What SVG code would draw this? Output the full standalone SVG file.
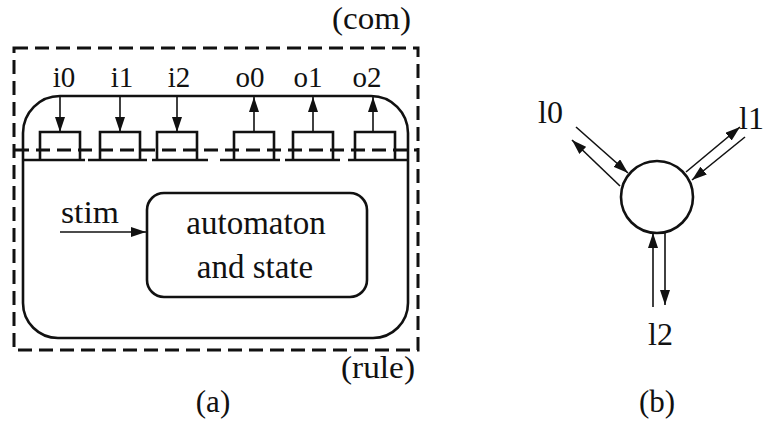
<svg xmlns="http://www.w3.org/2000/svg" width="764" height="434" viewBox="0 0 764 434" font-family="'Liberation Serif', 'Times New Roman', 'DejaVu Serif', serif">
<style>
text{font-family:"Liberation Serif","Times New Roman","DejaVu Serif",serif;fill:#111}
.lbl{font-size:31px}
.port{font-size:29px;text-anchor:middle}
.dash{fill:none;stroke:#111;stroke-width:3;stroke-dasharray:14 7}
.solid{fill:none;stroke:#111;stroke-width:2.6}
.arr{fill:none;stroke:#111;stroke-width:1.6;marker-end:url(#ah)}
</style>
<defs>
<marker id="ah" viewBox="0 0 15 10" refX="15" refY="5" markerWidth="15" markerHeight="10" markerUnits="userSpaceOnUse" orient="auto">
<path d="M0,0 L15,5 L0,10 Z" fill="#111"/>
</marker>
</defs>
<rect width="764" height="434" fill="#fff"/>

<g id="panel-a">
<g id="com-boundary">
<rect class="dash" x="14" y="48" width="404" height="302"/>
<line class="dash" x1="15" y1="150" x2="417" y2="150"/>
<text class="lbl" x="332" y="29" textLength="79" lengthAdjust="spacingAndGlyphs">(com)</text>
<text class="lbl" x="341" y="378" textLength="74" lengthAdjust="spacingAndGlyphs">(rule)</text>
</g>
<g id="rule-body">
<path class="solid" d="M60,96 L371,96 A37,37 0 0 1 408,133 L408,303 A35,35 0 0 1 373,338 L58,338 A35,35 0 0 1 23,303 L23,133 A37,37 0 0 1 60,96 Z"/>
<g class="solid">
<line x1="23" y1="160" x2="85" y2="160"/>
<line x1="88" y1="160" x2="147" y2="160"/>
<line x1="152" y1="160" x2="208" y2="160"/>
<line x1="220" y1="160" x2="280" y2="160"/>
<line x1="285" y1="160" x2="340" y2="160"/>
<line x1="348" y1="160" x2="408" y2="160"/>
</g>
</g>
<g id="ports" class="solid">
<path id="port-i0" d="M40,160 L40,132 L80,132 L80,160"/>
<path id="port-i1" d="M100,160 L100,132 L140,132 L140,160"/>
<path id="port-i2" d="M157,160 L157,132 L197,132 L197,160"/>
<path id="port-o0" d="M234,160 L234,132 L274,132 L274,160"/>
<path id="port-o1" d="M293,160 L293,132 L333,132 L333,160"/>
<path id="port-o2" d="M355,160 L355,132 L395,132 L395,160"/>
</g>
<g id="port-labels">
<text class="port" x="64" y="87">i0</text>
<text class="port" x="122" y="87">i1</text>
<text class="port" x="179" y="87">i2</text>
<text class="port" x="250" y="87">o0</text>
<text class="port" x="308" y="87">o1</text>
<text class="port" x="367" y="87">o2</text>
</g>
<g id="automaton">
<rect class="solid" x="147" y="193" width="220" height="104" rx="17" ry="17"/>
<text x="256" y="234" font-size="33" text-anchor="middle">automaton</text>
<text x="255" y="278" font-size="33" text-anchor="middle">and state</text>
</g>
<text class="lbl" x="61" y="223" textLength="58" lengthAdjust="spacingAndGlyphs">stim</text>
<text class="lbl" x="213" y="412" text-anchor="middle">(a)</text>
</g>

<g id="panel-b">
<g id="node">
<circle class="solid" cx="657" cy="197" r="36"/>
</g>
<text x="538" y="123" font-size="32">l0</text>
<text x="739" y="129" font-size="32">l1</text>
<text x="648" y="345" font-size="32">l2</text>
<text class="lbl" x="657" y="412" text-anchor="middle">(b)</text>
</g>

<g id="connectors">
<line class="arr" x1="60" y1="96" x2="60" y2="132"/>
<line class="arr" x1="120" y1="96" x2="120" y2="132"/>
<line class="arr" x1="177" y1="96" x2="177" y2="132"/>
<line class="arr" x1="254" y1="132" x2="254" y2="97"/>
<line class="arr" x1="313" y1="132" x2="313" y2="97"/>
<line class="arr" x1="373" y1="132" x2="373" y2="97"/>
<line class="arr" x1="60" y1="232" x2="146" y2="232"/>
<line class="arr" x1="576" y1="127" x2="628" y2="173"/>
<line class="arr" x1="620" y1="186" x2="572" y2="140"/>
<line class="arr" x1="686" y1="172" x2="740" y2="127"/>
<line class="arr" x1="745" y1="137" x2="692" y2="180"/>
<line class="arr" x1="653" y1="307" x2="653" y2="233"/>
<line class="arr" x1="665" y1="233" x2="665" y2="305"/>
</g>
</svg>
